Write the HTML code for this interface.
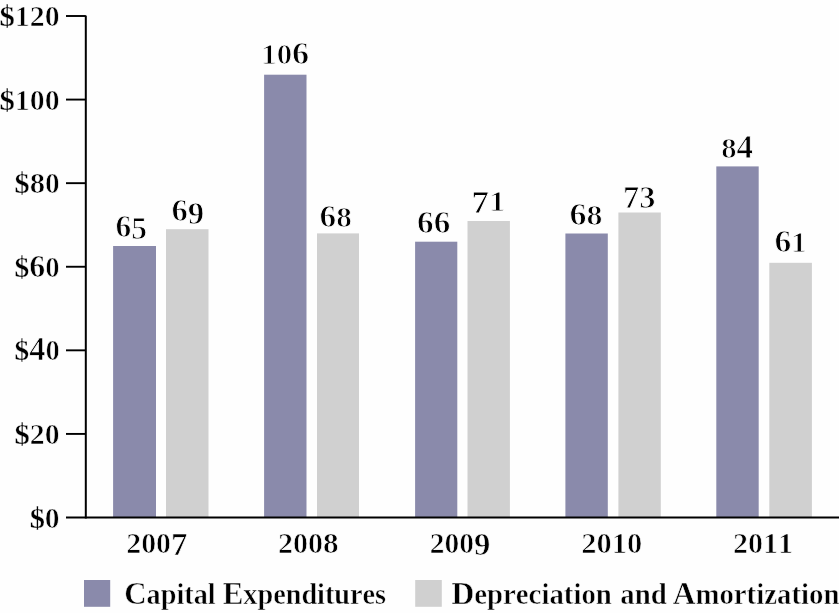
<!DOCTYPE html><html><head><meta charset="utf-8"><title>Chart</title><style>html,body{margin:0;padding:0;background:#fefefe}body{width:839px;height:613px;overflow:hidden}svg{display:block}text{font-family:"Liberation Serif",serif;font-kerning:none;fill:#000000}.b{font-weight:bold;stroke:#fefefe}.r{font-weight:normal;stroke:#000000}</style></head><body><svg width="839" height="613" viewBox="0 0 839 613"><rect width="839" height="613" fill="#fefefe"/>
<rect x="113.10" y="246.00" width="42.90" height="271.50" fill="#8a8aab"/>
<rect x="166.00" y="229.20" width="42.50" height="288.30" fill="#d0d0d0"/>
<rect x="264.10" y="74.70" width="42.40" height="442.80" fill="#8a8aab"/>
<rect x="317.00" y="233.40" width="42.00" height="284.10" fill="#d0d0d0"/>
<rect x="415.10" y="241.70" width="42.20" height="275.80" fill="#8a8aab"/>
<rect x="467.50" y="221.00" width="42.40" height="296.50" fill="#d0d0d0"/>
<rect x="565.40" y="233.50" width="42.40" height="284.00" fill="#8a8aab"/>
<rect x="618.40" y="212.50" width="42.40" height="305.00" fill="#d0d0d0"/>
<rect x="716.30" y="166.40" width="42.40" height="351.10" fill="#8a8aab"/>
<rect x="769.30" y="262.80" width="42.60" height="254.70" fill="#d0d0d0"/>
<rect x="84.8" y="15.6" width="2" height="502.9" fill="#000000"/>
<rect x="66" y="516.5" width="773" height="2" fill="#000000"/>
<rect x="66" y="432.97" width="19.8" height="1.9" fill="#000000"/>
<rect x="66" y="349.38" width="19.8" height="1.9" fill="#000000"/>
<rect x="66" y="265.80" width="19.8" height="1.9" fill="#000000"/>
<rect x="66" y="182.22" width="19.8" height="1.9" fill="#000000"/>
<rect x="66" y="98.63" width="19.8" height="1.9" fill="#000000"/>
<rect x="66" y="15.05" width="19.8" height="1.9" fill="#000000"/>
<rect x="84" y="580" width="26.2" height="26.8" fill="#8a8aab"/>
<rect x="415.2" y="580" width="26.6" height="26.8" fill="#d0d0d0"/>
<text transform="translate(115.54 236.90) scale(0.9744 1.0000)" font-size="32.00" stroke-width="0.90" class="b"><tspan font-size="32.4">6</tspan><tspan font-size="32.4" dy="2.3">5</tspan></text>
<text transform="translate(171.48 221.40) scale(1.0103 1.0000)" font-size="32.00" stroke-width="0.90" class="b"><tspan font-size="32.4">6</tspan><tspan font-size="32.4" dy="2.3">9</tspan></text>
<text transform="translate(261.24 63.80) scale(1.0561 1.0000)" font-size="32.00" stroke-width="0.90" class="b"><tspan font-size="29.2">10</tspan><tspan font-size="32.4">6</tspan></text>
<text transform="translate(319.51 226.60) scale(1.0283 1.0000)" font-size="32.00" stroke-width="0.90" class="b"><tspan font-size="32.4">6</tspan><tspan font-size="30.4">8</tspan></text>
<text transform="translate(417.01 233.10) scale(1.0272 1.0000)" font-size="32.00" stroke-width="0.90" class="b"><tspan font-size="32.4">66</tspan></text>
<text transform="translate(471.37 210.90) scale(1.0981 1.0000)" font-size="32.00" stroke-width="0.90" class="b"><tspan font-size="32.4" dy="2.3">7</tspan><tspan font-size="29.2" dy="-2.3">1</tspan></text>
<text transform="translate(569.56 225.00) scale(1.0514 1.0000)" font-size="32.00" stroke-width="0.90" class="b"><tspan font-size="32.4">6</tspan><tspan font-size="30.4">8</tspan></text>
<text transform="translate(623.09 206.00) scale(1.0035 1.0000)" font-size="32.00" stroke-width="0.90" class="b"><tspan font-size="32.4" dy="2.3">73</tspan></text>
<text transform="translate(721.28 157.90) scale(1.0087 1.0000)" font-size="32.00" stroke-width="0.90" class="b"><tspan font-size="30.4">8</tspan><tspan font-size="33.0">4</tspan></text>
<text transform="translate(774.49 251.90) scale(1.0404 1.0000)" font-size="32.00" stroke-width="0.90" class="b"><tspan font-size="32.4">6</tspan><tspan font-size="29.2">1</tspan></text>
<text transform="translate(29.68 527.65) scale(1.0169 1.0000)" font-size="29.30" stroke-width="0.70" class="b"><tspan font-size="29.8" stroke-width="0.3">$</tspan><tspan font-size="29.2">0</tspan></text>
<text transform="translate(14.58 444.07) scale(1.0217 1.0000)" font-size="29.30" stroke-width="0.70" class="b"><tspan font-size="29.8" stroke-width="0.3">$</tspan><tspan font-size="29.2">20</tspan></text>
<text transform="translate(14.62 360.48) scale(0.9805 1.0000)" font-size="29.30" stroke-width="0.70" class="b"><tspan font-size="29.8" stroke-width="0.3">$</tspan><tspan font-size="33.0">4</tspan><tspan font-size="29.2">0</tspan></text>
<text transform="translate(14.61 276.90) scale(0.9861 1.0000)" font-size="29.30" stroke-width="0.70" class="b"><tspan font-size="29.8" stroke-width="0.3">$</tspan><tspan font-size="32.4">6</tspan><tspan font-size="29.2">0</tspan></text>
<text transform="translate(14.59 193.32) scale(1.0095 1.0000)" font-size="29.30" stroke-width="0.70" class="b"><tspan font-size="29.8" stroke-width="0.3">$</tspan><tspan font-size="30.4">8</tspan><tspan font-size="29.2">0</tspan></text>
<text transform="translate(-0.43 109.73) scale(1.0250 1.0000)" font-size="29.30" stroke-width="0.70" class="b"><tspan font-size="29.8" stroke-width="0.3">$</tspan><tspan font-size="29.2">100</tspan></text>
<text transform="translate(-0.43 26.15) scale(1.0250 1.0000)" font-size="29.30" stroke-width="0.70" class="b"><tspan font-size="29.8" stroke-width="0.3">$</tspan><tspan font-size="29.2">120</tspan></text>
<text transform="translate(126.32 552.70) scale(1.0210 1.0000)" font-size="30.00" stroke-width="0.70" class="b"><tspan font-size="29.2">200</tspan><tspan font-size="32.4" dy="2.3">7</tspan></text>
<text transform="translate(277.96 552.70) scale(1.0285 1.0000)" font-size="30.00" stroke-width="0.70" class="b"><tspan font-size="29.2">200</tspan><tspan font-size="30.4">8</tspan></text>
<text transform="translate(429.63 552.70) scale(1.0106 1.0000)" font-size="30.00" stroke-width="0.70" class="b"><tspan font-size="29.2">200</tspan><tspan font-size="32.4" dy="2.3">9</tspan></text>
<text transform="translate(581.28 552.70) scale(1.0434 1.0000)" font-size="30.00" stroke-width="0.70" class="b"><tspan font-size="29.2">2010</tspan></text>
<text transform="translate(732.96 552.70) scale(1.0282 1.0000)" font-size="30.00" stroke-width="0.70" class="b"><tspan font-size="29.2">2011</tspan></text>
<text transform="translate(124.21 603.80) scale(0.9673 1.0000)" font-size="29.20" stroke-width="0.50" class="b"><tspan font-size="32">C</tspan>apital <tspan font-size="32">E</tspan>xpenditures</text>
<text transform="translate(451.46 603.80) scale(0.9863 1.0000)" font-size="29.20" stroke-width="0.50" class="b"><tspan font-size="32">D</tspan>epreciation<tspan dx="1.3"> </tspan>and<tspan dx="-1.3"> </tspan><tspan font-size="32">A</tspan>mortization</text></svg></body></html>
